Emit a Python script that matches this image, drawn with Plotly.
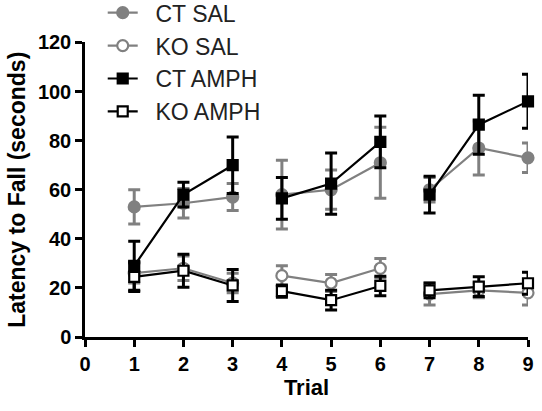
import plotly.graph_objects as go

trials = [1, 2, 3, 4, 5, 6, 7, 8, 9]
segments = [[0, 1, 2], [3, 4, 5], [6, 7, 8]]

ct_sal = [53, 54.5, 57, 58, 60, 71, 60, 77, 73]
ct_sal_err = [7, 6, 5.5, 14, 8, 14.5, 5, 11, 6]

ko_sal = [26, 28, 22, 25, 22, 28, 17.5, 19, 18]
ko_sal_err = [4, 5, 4, 4, 3.5, 4, 4.5, 3, 5]

ct_amph = [29, 58, 70, 56.5, 62.5, 79.5, 58, 86.5, 96]
ct_amph_err = [10, 5, 11.5, 8.5, 12.5, 10.5, 7.5, 12, 11]

ko_amph = [24.5, 27, 21, 18.7, 15, 20.8, 19, 20.5, 21.9]
ko_amph_err = [6, 6.7, 6.5, 2.5, 4, 4, 3, 4, 4.5]

y_ticks = [0, 20, 40, 60, 80, 100, 120]
x_ticks = [0, 1, 2, 3, 4, 5, 6, 7, 8, 9]

GRAY = "#808080"
BLACK = "#000000"

def gapped(vals):
    out = []
    for i, seg in enumerate(segments):
        if i > 0:
            out.append(None)
        out.extend(vals[j] for j in seg)
    return out

series = [
    ("CT SAL", ct_sal, ct_sal_err, GRAY, "circle", GRAY),
    ("KO SAL", ko_sal, ko_sal_err, GRAY, "circle", "white"),
    ("CT AMPH", ct_amph, ct_amph_err, BLACK, "square", BLACK),
    ("KO AMPH", ko_amph, ko_amph_err, BLACK, "square", "white"),
]

fig = go.Figure()
for name, vals, errs, col, sym, fill in series:
    fig.add_trace(go.Scatter(
        x=gapped(trials), y=gapped(vals), name="\u00a0\u00a0" + name,
        mode="lines+markers", connectgaps=False, cliponaxis=False,
        line=dict(color=col, width=2.2),
        marker=dict(symbol=sym, size=11 if sym == "circle" else 10, color=fill,
                    line=dict(color=col, width=2.2)),
        error_y=dict(type="data", array=gapped(errs), visible=True,
                     color=col, thickness=3, width=6),
    ))

font_family = "Arial, Liberation Sans, sans-serif"
fig.update_layout(
    width=542, height=411,
    margin=dict(l=85, r=14, t=0, b=74, autoexpand=False),
    paper_bgcolor="white", plot_bgcolor="white",
    font=dict(family=font_family, color="black"),
    showlegend=True,
    legend=dict(x=0.04, y=1.026,
                xanchor="left", yanchor="top", bgcolor="rgba(0,0,0,0)",
                font=dict(size=23, color="#222"), tracegroupgap=0,
                itemwidth=30),
    xaxis=dict(range=[0, 9], tickvals=x_ticks, ticktext=[str(v) for v in x_ticks],
               showgrid=False, zeroline=False, showline=True,
               linecolor="black", linewidth=2.5, ticks="outside",
               ticklen=7, tickwidth=2.5, tickcolor="black",
               tickfont=dict(size=20, family=font_family, weight="bold"),
               title=dict(text="<b>Trial</b>", font=dict(size=22), standoff=4)),
    yaxis=dict(range=[0, 120], tickvals=y_ticks, domain=[0, 0.874],
               showgrid=False, zeroline=False, showline=True,
               linecolor="black", linewidth=2.5, ticks="outside",
               ticklen=7, tickwidth=2.5, tickcolor="black",
               tickfont=dict(size=20, family=font_family, weight="bold"),
               title=dict(text="<b>Latency to Fall (seconds)</b>", font=dict(size=23), standoff=6)),
)

fig.write_html("out.html", config={"displayModeBar": False},
               post_script="document.body.style.margin='0px';")
